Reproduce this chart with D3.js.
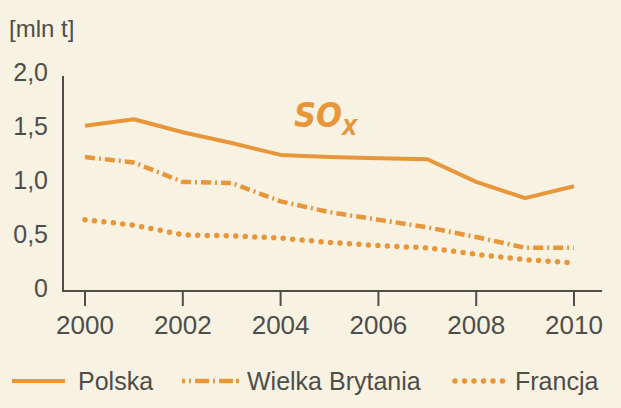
<!DOCTYPE html>
<html>
<head>
<meta charset="utf-8">
<script src="https://cdn.jsdelivr.net/npm/d3@7"></script>
<style>
  html, body { margin: 0; padding: 0; background: #f8f2e3; }
  svg { display: block; }
  text { font-family: "Liberation Sans", Arial, sans-serif; fill: #4d4d4a; }
</style>
</head>
<body>
<div id="chart"></div>
<script>
var years = [2000, 2001, 2002, 2003, 2004, 2005, 2006, 2007, 2008, 2009, 2010];
var polska = [1.53, 1.59, 1.47, 1.37, 1.26, 1.24, 1.23, 1.22, 1.01, 0.86, 0.97];
var wielkaBrytania = [1.24, 1.19, 1.01, 1.00, 0.83, 0.73, 0.66, 0.59, 0.50, 0.40, 0.40];
var francja = [0.66, 0.61, 0.52, 0.51, 0.49, 0.45, 0.42, 0.40, 0.34, 0.29, 0.26];
var yTicks = [0, 0.5, 1, 1.5, 2];
var xTicks = [2000, 2002, 2004, 2006, 2008, 2010];
var seriesNames = ["Polska", "Wielka Brytania", "Francja"];

var width = 621, height = 408;
var orange = "#e8963a";

var series = [
  {name: seriesNames[0], values: polska, dash: null, cap: "butt", w: 4},
  {name: seriesNames[1], values: wielkaBrytania, dash: "10,4,2,4", cap: "butt", w: 4.5},
  {name: seriesNames[2], values: francja, dash: "0,9.5", cap: "round", w: 5.5}
];

var svg = d3.select("#chart").append("svg")
    .attr("width", width)
    .attr("height", height);

var x = d3.scaleLinear().domain([2000, 2010]).range([85, 574]);
var y = d3.scaleLinear().domain([0, 2]).range([291, 75]);

// axes
svg.append("line")
    .attr("x1", 63).attr("x2", 63)
    .attr("y1", 76).attr("y2", 291)
    .attr("stroke", "#4d4d4a").attr("stroke-width", 2);
svg.append("line")
    .attr("x1", 62).attr("x2", 602)
    .attr("y1", 291).attr("y2", 291)
    .attr("stroke", "#4d4d4a").attr("stroke-width", 2);

svg.selectAll(".xtick").data(xTicks).enter()
  .append("line")
    .attr("class", "xtick")
    .attr("x1", function(d) { return x(d); })
    .attr("x2", function(d) { return x(d); })
    .attr("y1", 291).attr("y2", 306)
    .attr("stroke", "#4d4d4a").attr("stroke-width", 2);

svg.selectAll(".xlabel").data(xTicks).enter()
  .append("text")
    .attr("class", "xlabel")
    .attr("x", function(d) { return x(d); })
    .attr("y", 334)
    .attr("text-anchor", "middle")
    .style("font-size", "26px")
    .text(function(d) { return d; });

svg.selectAll(".ylabel").data(yTicks).enter()
  .append("text")
    .attr("class", "ylabel")
    .attr("x", 48)
    .attr("y", function(d) { return y(d) + 6; })
    .attr("text-anchor", "end")
    .style("font-size", "25px")
    .text(function(d) { return d === 0 ? "0" : d3.format(".1f")(d).replace(".", ","); });

svg.append("text")
    .attr("x", 9).attr("y", 37)
    .style("font-size", "24px")
    .text("[mln t]");

// lines
var line = d3.line()
    .x(function(d, i) { return x(years[i]); })
    .y(function(d) { return y(d); });

svg.selectAll(".series").data(series).enter()
  .append("path")
    .attr("class", "series")
    .attr("d", function(d) { return line(d.values); })
    .attr("fill", "none")
    .attr("stroke", orange)
    .attr("stroke-width", function(d) { return d.w; })
    .attr("stroke-linecap", function(d) { return d.cap; })
    .attr("stroke-linejoin", "round")
    .attr("stroke-dasharray", function(d) { return d.dash; });

// SOx label
var so = svg.append("text")
    .attr("x", 294).attr("y", 127)
    .style("font-family", "'DejaVu Sans Condensed', 'DejaVu Sans', sans-serif")
    .style("font-weight", "bold")
    .style("font-style", "italic")
    .style("fill", orange)
    .style("font-size", "34px");
so.append("tspan").text("SO");
so.append("tspan")
    .attr("dy", 8)
    .style("font-size", "22px")
    .text("X");

// legend
var legendX = [12, 182, 452];
var legendW = [53, 57, 54];
var legendTextX = [78, 247, 515];
var legend = svg.selectAll(".legend").data(series).enter()
  .append("g")
    .attr("class", "legend");
legend.append("line")
    .attr("x1", function(d, i) { return legendX[i] + (i === 2 ? 3 : 0); })
    .attr("x2", function(d, i) { return legendX[i] + legendW[i]; })
    .attr("y1", 381).attr("y2", 381)
    .attr("stroke", orange)
    .attr("stroke-width", function(d) { return d.w; })
    .attr("stroke-linecap", function(d) { return d.cap; })
    .attr("stroke-dasharray", function(d, i) { return i === 2 ? "0,9.5" : i === 1 ? "3,4,2,4,14,4,2,4,14" : d.dash; });
legend.append("text")
    .attr("x", function(d, i) { return legendTextX[i]; })
    .attr("y", 390)
    .style("font-size", "25px")
    .text(function(d) { return d.name; });
</script>
</body>
</html>
